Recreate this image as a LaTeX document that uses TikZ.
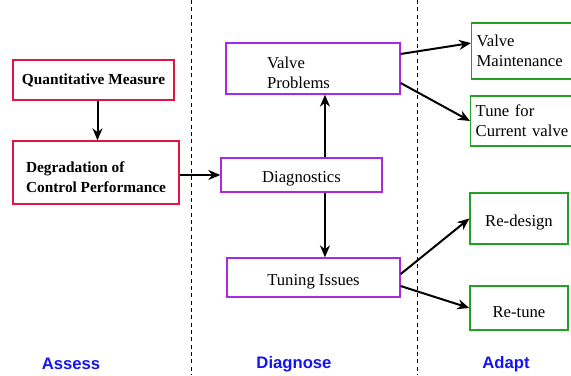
\documentclass[tikz,border=0pt]{standalone}
\usepackage{fontspec}
\setmainfont{Liberation Serif}
\setsansfont{Liberation Sans}
\usetikzlibrary{arrows.meta}
\definecolor{assessred}{RGB}{228,20,64}
\definecolor{diagviolet}{RGB}{170,40,224}
\definecolor{adaptgreen}{RGB}{36,160,36}
\definecolor{phaseblue}{RGB}{20,20,240}
\begin{document}
\begin{tikzpicture}[x=0.75pt,y=-0.75pt,
    box/.style={draw,line width=1pt,rectangle,inner sep=0pt,font=\fontsize{12.5}{15}\selectfont},
    low/.style={text height=14.5pt},
    assess/.style={box,draw=assessred,font=\fontsize{11.5}{14.5}\selectfont\bfseries,align=left},
    diag/.style={box,draw=diagviolet,low},
    adapt/.style={box,draw=adaptgreen},
    phase/.style={font=\fontsize{12.5}{14}\sffamily\bfseries,text=phaseblue},
    flow/.style={-{Stealth[length=9pt,width=7.5pt]},line width=1.5pt}]
      \clip (0,0) rectangle (571,375);
      % column separators
      \draw[dash pattern=on 3pt off 2.5pt,line width=0.5pt] (191,0) -- (191,375);
      \draw[dash pattern=on 3pt off 2.5pt,line width=0.5pt] (417,0) -- (417,375);
      % assess
      \node[assess,minimum width=120.75pt,minimum height=30pt] (qm) at (93.5,80) {Quantitative Measure};
      \node[assess,text height=29.5pt,minimum width=124.5pt,minimum height=47.25pt] (deg) at (96,172.5) {Degradation of\\Control Performance};
      % diagnose
      \node[diag,minimum width=120.75pt,minimum height=25.5pt] (diagn) at (301.5,175) {Diagnostics};
      \node[diag,align=left,text width=69pt,inner xsep=30.75pt,minimum height=38.25pt] (vp) at (313,68.5) {Valve\\Problems};
      \node[diag,minimum width=129.75pt,minimum height=29.25pt] (ti) at (313.5,277.5) {Tuning Issues};
      % adapt
      \node[adapt,anchor=west,align=left,text width=92pt,inner xsep=3.75pt,minimum height=42pt] (vm) at (471,51) {Valve\\Maintenance};
      \node[adapt,anchor=west,align=left,text width=92pt,inner xsep=3.75pt,minimum height=37.5pt] (tc) at (470,121) {Tune for\\Current valve};
      \node[adapt,low,minimum width=73.5pt,minimum height=38.25pt] (rd) at (519,218.5) {Re-design};
      \node[adapt,low,minimum width=73.5pt,minimum height=33pt] (rt) at (519,308) {Re-tune};
      % phases
      \node[phase] (as) at (71,364) {Assess};
      \node[phase] (dg) at (294,364) {Diagnose};
      \node[phase] (ad) at (506,364) {Adapt};
      \begin{scope}[flow]
        \draw ([xshift=3pt]qm.south) to ([xshift=3pt]qm.south |- deg.north);
        \draw (diagn.west -| deg.east) to (diagn.west);
        \draw ([xshift=17.6pt]diagn.north) to ([xshift=17.6pt]diagn.north |- vp.south);
        \draw ([xshift=17.6pt]diagn.south) to ([xshift=17.6pt]diagn.south |- ti.north);
        \draw ([yshift=10.9pt]vp.east) to ([yshift=6pt]vm.west);
        \draw ([yshift=-10.9pt]vp.east) to (tc.west);
        \draw ([yshift=2.6pt]ti.east) to (rd.west);
        \draw ([yshift=-6.4pt]ti.east) to (rt.west);
      \end{scope}
    \end{tikzpicture}
\end{document}
